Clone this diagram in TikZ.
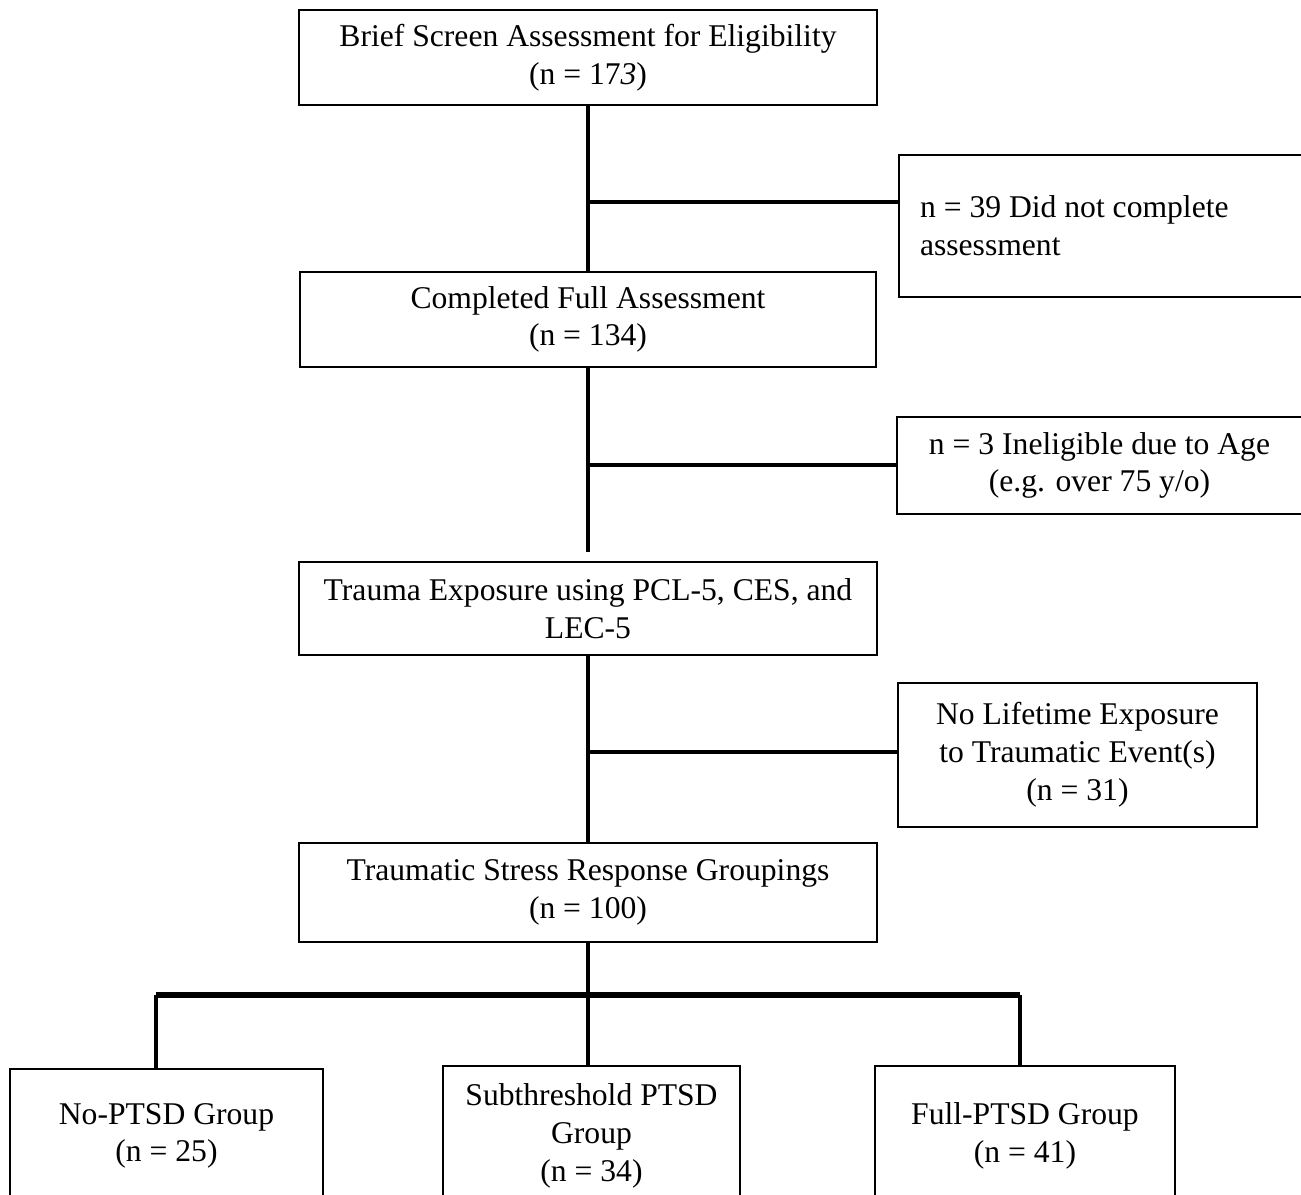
\documentclass[tikz,border=0pt]{standalone}
\usepackage{fontspec}
\setmainfont{Liberation Serif}
\tikzset{
    box/.style={draw, line width=1.1pt, align=center, inner sep=0pt, font=\fontsize{18}{21.5}\selectfont},
    link/.style={line width=2.3pt},
    bar/.style={line width=3.4pt},
}
\begin{document}
\begin{tikzpicture}[x=0.02cm, y=-0.02cm]
    \useasboundingbox (0,0) rectangle (1301,1195);
    % main column
    \node[box, minimum width=11.56cm, minimum height=1.9cm] (screen) at (588,57.5) {Brief Screen Assessment for Eligibility\\(n = 17\textit{3})};
    \node[box, minimum width=11.52cm, minimum height=1.9cm] (full) at (588,319.5) {Completed Full Assessment\\(n = 134)};
    \node[box, minimum width=11.58cm, minimum height=1.86cm] (trauma) at (588,608.5) {Trauma Exposure using PCL-5, CES, and\\LEC-5};
    \node[box, minimum width=11.58cm, minimum height=1.98cm] (groups) at (588,892.5) {Traumatic Stress Response Groupings\\(n = 100)};
    % exclusions
    \node[box, align=flush left, text width=7.22cm, inner xsep=0.42cm, minimum height=2.84cm] (noshow) at (1100.5,226) {n = 39 Did not complete\\assessment};
    \node[box, minimum width=8.1cm, minimum height=1.94cm] (age) at (1099.5,465.5) {n = 3 Ineligible due to Age\\(e.g. over 75 y/o)};
    \node[box, minimum width=7.18cm, minimum height=2.88cm] (noexp) at (1077.5,755) {No Lifetime Exposure\\to Traumatic Event(s)\\(n = 31)};
    % final groups
    \node[box, minimum width=6.26cm, minimum height=2.68cm] (nogroup) at (166.5,1136) {No-PTSD Group\\(n = 25)};
    \node[box, minimum width=5.94cm, minimum height=2.8cm] (subgroup) at (591.5,1136) {Subthreshold PTSD\\Group\\(n = 34)};
    \node[box, minimum width=6.0cm, minimum height=2.8cm] (fullgroup) at (1025,1136) {Full-PTSD Group\\(n = 41)};
    \coordinate (split1) at (588,202);
    \coordinate (end2) at (588,552);
    \coordinate (split2) at (588,465);
    \coordinate (split3) at (588,752);
    \coordinate (fork) at (588,995);
    \coordinate (forkl) at (156,995);
    \coordinate (forkr) at (1020,995);
    \draw[link] (screen.south) -- (full.north);
    \draw[link] (split1) -- (split1 -| noshow.west);
    \draw[link] (full.south) -- (end2);
    \draw[link] (split2) -- (split2 -| age.west);
    \draw[link] (trauma.south) -- (groups.north);
    \draw[link] (split3) -- (split3 -| noexp.west);
    \draw[link] (groups.south) -- (fork);
    \draw[bar] (forkl) -- (forkr);
    \draw[link] (forkl) -- (forkl |- nogroup.north);
    \draw[link] (fork) -- (fork |- subgroup.north);
    \draw[link] (forkr) -- (forkr |- fullgroup.north);
\end{tikzpicture}
\end{document}
